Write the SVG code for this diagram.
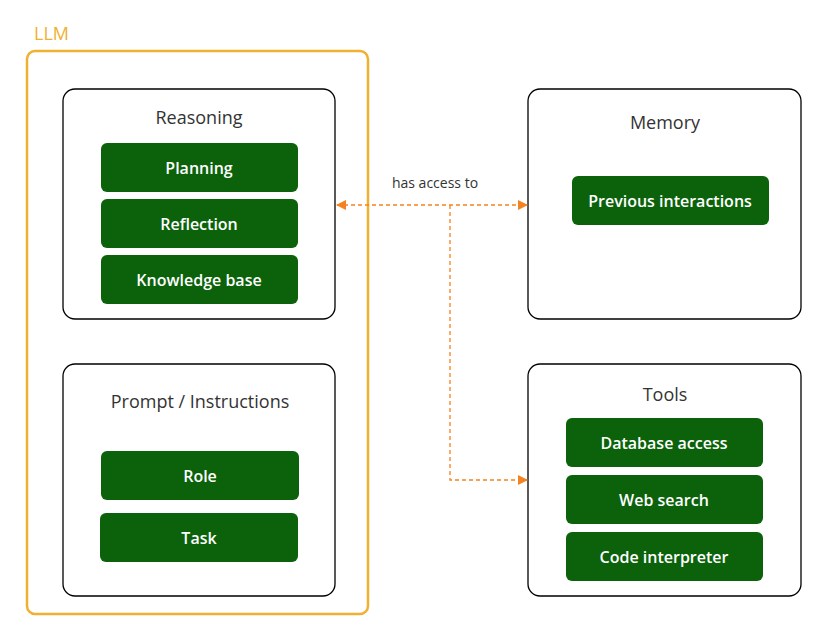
<svg xmlns="http://www.w3.org/2000/svg" width="826" height="632" viewBox="0 0 826 632">
<defs>
<style>
.box{fill:#fff;stroke:#000;stroke-width:1.3}
.g{fill:#0b620b}
.gt{fill:#fff;font-family:"Open Sans","Liberation Sans",sans-serif;font-size:16px;font-weight:600;text-anchor:middle}
.t{fill:#333;font-family:"Open Sans","Liberation Sans",sans-serif;font-size:18px;text-anchor:middle}
.c{fill:none;stroke:#f58220;stroke-width:1.3;stroke-dasharray:4 3}
</style>
<marker id="ah" viewBox="0 0 10 10" refX="9" refY="5" markerWidth="8" markerHeight="8" orient="auto-start-reverse"><path d="M0,0L10,5L0,10z" fill="#f58220"/></marker>
</defs>
<g id="llm">
<text x="34" y="40" font-family="'Open Sans','Liberation Sans',sans-serif" font-size="18" fill="#f0b030">LLM</text>
<rect x="27" y="51" width="341" height="563" rx="8" fill="none" stroke="#f0b030" stroke-width="2.5"/>
</g>
<g id="reasoning">
<rect class="box" x="63" y="89" width="272" height="230" rx="12"/>
<text class="t" x="199" y="124">Reasoning</text>
<rect class="g" x="101" y="143" width="197" height="49" rx="6"/><text class="gt" x="199" y="174">Planning</text>
<rect class="g" x="101" y="199" width="197" height="49" rx="6"/><text class="gt" x="199" y="230">Reflection</text>
<rect class="g" x="101" y="255" width="197" height="49" rx="6"/><text class="gt" x="199" y="286">Knowledge base</text>
</g>
<g id="prompt">
<rect class="box" x="63" y="364" width="272" height="232" rx="12"/>
<text class="t" x="200" y="408">Prompt / Instructions</text>
<rect class="g" x="101" y="451" width="198" height="49" rx="6"/><text class="gt" x="200" y="482">Role</text>
<rect class="g" x="100" y="513" width="198" height="49" rx="6"/><text class="gt" x="199" y="544">Task</text>
</g>
<g id="memory">
<rect class="box" x="528" y="89" width="273" height="230" rx="12"/>
<text class="t" x="665" y="129">Memory</text>
<rect class="g" x="572" y="176" width="197" height="49" rx="6"/><text class="gt" x="670" y="207">Previous interactions</text>
</g>
<g id="tools">
<rect class="box" x="528" y="364" width="273" height="232" rx="12"/>
<text class="t" x="665" y="401">Tools</text>
<rect class="g" x="566" y="418" width="197" height="49" rx="6"/><text class="gt" x="664" y="449">Database access</text>
<rect class="g" x="566" y="475" width="197" height="49" rx="6"/><text class="gt" x="664" y="506">Web search</text>
<rect class="g" x="566" y="532" width="197" height="49" rx="6"/><text class="gt" x="664" y="563">Code interpreter</text>
</g>
<g id="connectors">
<path class="c" d="M337,205H527" marker-start="url(#ah)" marker-end="url(#ah)"/>
<path class="c" d="M450,205V480H527" marker-end="url(#ah)"/>
<text x="435" y="188" font-family="'Open Sans','Liberation Sans',sans-serif" font-size="14" fill="#333" text-anchor="middle">has access to</text>
</g>
</svg>
